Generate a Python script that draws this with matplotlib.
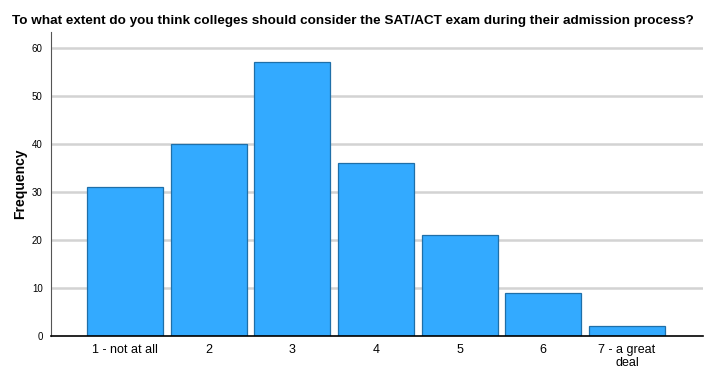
import matplotlib
matplotlib.use("Agg")
import matplotlib.pyplot as plt

categories = ["1 - not at all", "2", "3", "4", "5", "6", "7 - a great\ndeal"]
frequencies = [31, 40, 57, 36, 21, 9, 2]
yticks = [0, 10, 20, 30, 40, 50, 60]

plt.rcParams['font.family'] = ['Liberation Sans', 'DejaVu Sans']

fig = plt.figure(figsize=(7.24, 3.73), dpi=100)
ax = fig.add_axes([51/724, 1-336/373, (703-51)/724, (336-32)/373])

positions = list(range(1, len(categories)+1))
ax.bar(positions, frequencies, width=0.91, color="#33aaff", edgecolor="#1f6fa8", linewidth=0.9, zorder=3)

ax.set_xlim(0.116, 7.908)
ax.set_ylim(0, 63.3)
ax.set_yticks(yticks)
ax.set_yticklabels([str(t) for t in yticks], fontsize=7)
ax.set_xticks(positions)
ax.set_xticklabels(categories, fontsize=9, linespacing=1.05)
ax.tick_params(axis='y', length=0, pad=6)
ax.tick_params(axis='x', length=0, pad=6)
for t in yticks[1:]:
    ax.axhline(t, color="#d3d3d3", linewidth=1.8, zorder=1)

for s in ["top", "right"]:
    ax.spines[s].set_visible(False)
ax.spines["left"].set_color("#555555")
ax.spines["left"].set_linewidth(0.8)
ax.spines["bottom"].set_color("black")
ax.spines["bottom"].set_linewidth(1.2)
ax.spines["bottom"].set_zorder(4)

ax.set_ylabel("Frequency", fontsize=10, fontweight="bold", labelpad=3)
fig.text(12/724, 1-21/373, "To what extent do you think colleges should consider the SAT/ACT exam during their admission process?",
         fontsize=9.7, fontweight="bold", ha="left", va="center")

fig.savefig("out.png", dpi=100)
